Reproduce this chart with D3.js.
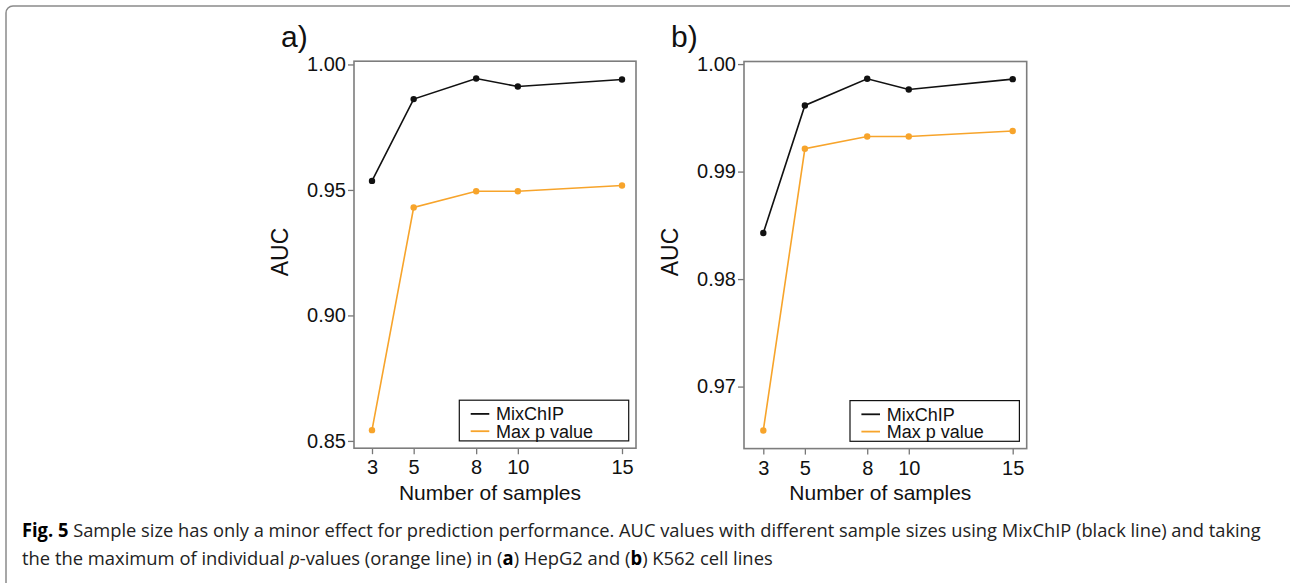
<!DOCTYPE html>
<html>
<head>
<meta charset="utf-8">
<script src="https://cdn.jsdelivr.net/npm/d3@7"></script>
<style>
  html, body { margin: 0; padding: 0; background: #fff; }
  svg { display: block; }
  text { font-family: "Liberation Sans", Arial, Helvetica, sans-serif; }
  .cap { font-family: "Open Sans", "Noto Sans", sans-serif; }
</style>
</head>
<body>
<svg id="chart" width="1290" height="583"></svg>
<script>
// ---- data ----
const sampleSizes = [3, 5, 8, 10, 15];
const seriesNames = ["MixChIP", "Max p value"];
const hepg2MixChIP = [0.9536, 0.9862, 0.9944, 0.9912, 0.9940];
const hepg2MaxP    = [0.8543, 0.9430, 0.9495, 0.9495, 0.9518];
const k562MixChIP  = [0.98428, 0.99615, 0.99863, 0.99764, 0.99860];
const k562MaxP     = [0.96592, 0.99212, 0.99327, 0.99327, 0.99377];
const yTicksA = [0.85, 0.90, 0.95, 1.00];
const yTicksB = [0.97, 0.98, 0.99, 1.00];
const xTicks = [3, 5, 8, 10, 15];
const panelLabels = ["a)", "b)"];

const colors = ["#111111", "#f7a42b"];
const svg = d3.select("#chart");

// outer frame
svg.append("rect").attr("x", 6).attr("y", 6).attr("width", 1300).attr("height", 600)
  .attr("rx", 7).attr("fill", "none").attr("stroke", "#8a8a8a").attr("stroke-width", 1.5);

const panels = [
  { label: panelLabels[0], left: 354, right: 636, top: 61.2, bottom: 448.2,
    xDomain: [2.136, 15.672], yDomain: [0.8471, 1.0013], yTicks: yTicksA, fmt: d3.format(".2f"),
    series: [hepg2MixChIP, hepg2MaxP] },
  { label: panelLabels[1], left: 744, right: 1026.7, top: 61.5, bottom: 448.6,
    xDomain: [2.071, 15.674], yDomain: [0.96423, 1.00024], yTicks: yTicksB, fmt: d3.format(".2f"),
    series: [k562MixChIP, k562MaxP] }
];

panels.forEach(p => {
  const g = svg.append("g");
  const x = d3.scaleLinear().domain(p.xDomain).range([p.left, p.right]);
  const y = d3.scaleLinear().domain(p.yDomain).range([p.bottom, p.top]);

  // panel label
  g.append("text").attr("x", p.left - 73).attr("y", 46.5).attr("font-size", 30)
    .attr("fill", "#111").text(p.label);

  // y axis
  const ya = g.append("g").attr("transform", `translate(${p.left},0)`)
    .call(d3.axisLeft(y).tickValues(p.yTicks).tickFormat(p.fmt).tickSize(6).tickPadding(2));
  ya.select(".domain").remove();
  ya.selectAll(".tick line").attr("stroke", "#777").attr("stroke-width", 1.3);
  ya.selectAll(".tick text").attr("font-size", 20).attr("fill", "#111")
    .attr("font-family", '"Liberation Sans", Arial, sans-serif');

  // x axis
  const xa = g.append("g").attr("transform", `translate(0,${p.bottom})`)
    .call(d3.axisBottom(x).tickValues(xTicks).tickFormat(d3.format("d")).tickSize(6).tickPadding(6));
  xa.select(".domain").remove();
  xa.selectAll(".tick line").attr("stroke", "#777").attr("stroke-width", 1.3);
  xa.selectAll(".tick text").attr("font-size", 20).attr("fill", "#111")
    .attr("font-family", '"Liberation Sans", Arial, sans-serif');

  // box
  g.append("rect").attr("x", p.left).attr("y", p.top)
    .attr("width", p.right - p.left).attr("height", p.bottom - p.top)
    .attr("fill", "none").attr("stroke", "#7d7d7d").attr("stroke-width", 1.6);

  // axis titles
  g.append("text").attr("x", (p.left + p.right) / 2 - 5).attr("y", 499.5)
    .attr("text-anchor", "middle").attr("font-size", 21).attr("fill", "#111")
    .text("Number of samples");
  g.append("text").attr("transform", `translate(${p.left - 66},252) rotate(-90)`)
    .attr("text-anchor", "middle").attr("font-size", 23).attr("fill", "#111").text("AUC");

  // series
  const line = d3.line().x((d, i) => x(sampleSizes[i])).y(d => y(d));
  [1, 0].forEach(si => {
    const vals = p.series[si];
    g.append("path").datum(vals).attr("d", line).attr("fill", "none")
      .attr("stroke", colors[si]).attr("stroke-width", 1.6);
    g.selectAll(null).data(vals).enter().append("circle")
      .attr("cx", (d, i) => x(sampleSizes[i])).attr("cy", d => y(d)).attr("r", 3.2)
      .attr("fill", colors[si]);
  });

  // legend
  const lw = 169.4, lh = 40.7;
  const lx = p.right - 7.3 - lw, ly = p.bottom - 7.3 - lh;
  const lg = g.append("g");
  lg.append("rect").attr("x", lx).attr("y", ly).attr("width", lw).attr("height", lh)
    .attr("fill", "#fff").attr("stroke", "#111").attr("stroke-width", 1.2);
  seriesNames.forEach((name, i) => {
    const yy = ly + 13.7 + i * 17.3;
    lg.append("line").attr("x1", lx + 11.4).attr("x2", lx + 30).attr("y1", yy).attr("y2", yy)
      .attr("stroke", colors[i]).attr("stroke-width", 1.8);
    lg.append("text").attr("x", lx + 36.7).attr("y", yy + 6.3).attr("font-size", 18)
      .attr("fill", "#111").text(name);
  });
});

// caption
const capLines = [
  { y: 537, target: 1240, parts: [
    { t: "Fig. 5", w: "bold" },
    { t: " Sample size has only a minor effect for prediction performance. AUC values with different sample sizes using MixChIP (black line) and taking" } ] },
  { y: 565, target: 751, parts: [
    { t: "the the maximum of individual " },
    { t: "p", s: "italic" },
    { t: "-values (orange line) in (" },
    { t: "a", w: "bold" },
    { t: ") HepG2 and (" },
    { t: "b", w: "bold" },
    { t: ") K562 cell lines" } ] }
];
capLines.forEach(l => {
  const t = svg.append("text").attr("class", "cap").attr("font-size", 19).attr("fill", "#222");
  l.parts.forEach(pt => {
    t.append("tspan").text(pt.t)
      .attr("font-weight", pt.w || "normal").attr("font-style", pt.s || "normal")
      .attr("fill", pt.w ? "#000" : "#222");
  });
  const w = t.node().getComputedTextLength();
  t.attr("transform", `translate(22,${l.y}) scale(${l.target / w},1)`);
});
</script>
</body>
</html>
